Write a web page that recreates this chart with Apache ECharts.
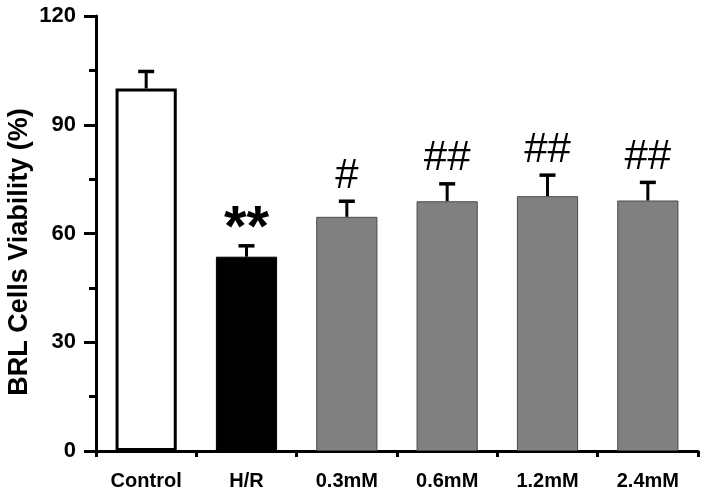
<!DOCTYPE html>
<html><head><meta charset="utf-8">
<script src="https://cdn.jsdelivr.net/npm/echarts@6/dist/echarts.min.js"></script>
<style>html,body{margin:0;padding:0;background:#fff}#c{width:708px;height:497px}</style>
</head><body><div id="c"></div>
<script>
const categories = ['Control', 'H/R', '0.3mM', '0.6mM', '1.2mM', '2.4mM'];
const viability = [100, 53.6, 64.6, 68.9, 70.3, 69.1];
const sem = [4.7, 3.0, 4.3, 4.8, 5.8, 5.0];
const marks = ['', '**', '#', '##', '##', '##'];
const yTicks = [0, 30, 60, 90, 120];
const yTitle = 'BRL Cells Viability (%)';

const fills = ['#ffffff', '#000000', '#808080', '#808080', '#808080', '#808080'];
const borders = ['#000000', '#000000', '#4a4a4a', '#4a4a4a', '#4a4a4a', '#4a4a4a'];
const borderWidths = [3, 1, 1, 1, 1, 1];
const FONT = '"Liberation Sans", Arial, sans-serif';

const chart = echarts.init(document.getElementById('c'));
const gridTop = 16, gridBottom = 46;
const gridH = 497 - gridTop - gridBottom;

chart.setOption({
  animation: false,
  backgroundColor: '#fff',
  grid: { left: 96, right: 10, top: gridTop, bottom: gridBottom, containLabel: false },
  xAxis: [
    {
      type: 'category', data: categories, position: 'bottom',
      axisLine: { lineStyle: { color: '#000', width: 3 } },
      axisTick: { alignWithLabel: true, length: 10, lineStyle: { color: '#000', width: 3 } },
      axisLabel: { color: '#000', fontSize: 20, fontWeight: 'bold', fontFamily: FONT, margin: 20 }
    },
    {
      type: 'category', data: categories, position: 'top', offset: -gridH,
      axisLine: { show: false },
      axisTick: { show: true, inside: true, length: 6, lineStyle: { color: '#000', width: 3 } },
      axisLabel: { show: false }
    }
  ],
  yAxis: {
    type: 'value', min: yTicks[0], max: yTicks[yTicks.length - 1], interval: yTicks[1] - yTicks[0],
    axisLine: { show: true, lineStyle: { color: '#000', width: 3 } },
    axisTick: { show: true, length: 12, lineStyle: { color: '#000', width: 3 } },
    minorTick: { show: true, splitNumber: 2, length: 7, lineStyle: { color: '#000', width: 3 } },
    splitLine: { show: false },
    axisLabel: { color: '#000', fontSize: 22, fontWeight: 'bold', fontFamily: FONT, margin: 20 }
  },
  graphic: [{
    type: 'text', x: 20, y: 252, rotation: Math.PI / 2,
    style: { text: yTitle, font: 'bold 27px ' + FONT, fill: '#000', align: 'center', verticalAlign: 'middle' }
  }],
  series: [
    {
      type: 'bar', xAxisIndex: 0, barWidth: '61%',
      data: viability.map((v, i) => ({
        value: v,
        itemStyle: { color: fills[i], borderColor: borders[i], borderWidth: borderWidths[i] }
      }))
    },
    {
      type: 'custom', xAxisIndex: 0, z: 5,
      data: categories.map((c, i) => [i, viability[i], sem[i]]),
      renderItem: function (params, api) {
        const i = api.value(0), m = api.value(1), e = api.value(2);
        const top = api.coord([i, m + e]);
        const base = api.coord([i, m]);
        const half = 8;
        const children = [
          { type: 'line', shape: { x1: top[0], y1: base[1], x2: top[0], y2: top[1] }, style: { stroke: '#000', lineWidth: 3 } },
          { type: 'line', shape: { x1: top[0] - half, y1: top[1], x2: top[0] + half, y2: top[1] }, style: { stroke: '#000', lineWidth: 3.5 } }
        ];
        const t = marks[params.dataIndex];
        if (t) {
          const star = t.indexOf('*') >= 0;
          children.push({
            type: 'text', x: top[0], y: top[1] - (star ? 16 : 25),
            style: {
              text: t, fill: '#000', align: 'center', verticalAlign: 'middle',
              font: (star ? 'bold 58px ' : '42px ') + FONT
            }
          });
        }
        return { type: 'group', children: children };
      }
    }
  ]
});
</script></body></html>
